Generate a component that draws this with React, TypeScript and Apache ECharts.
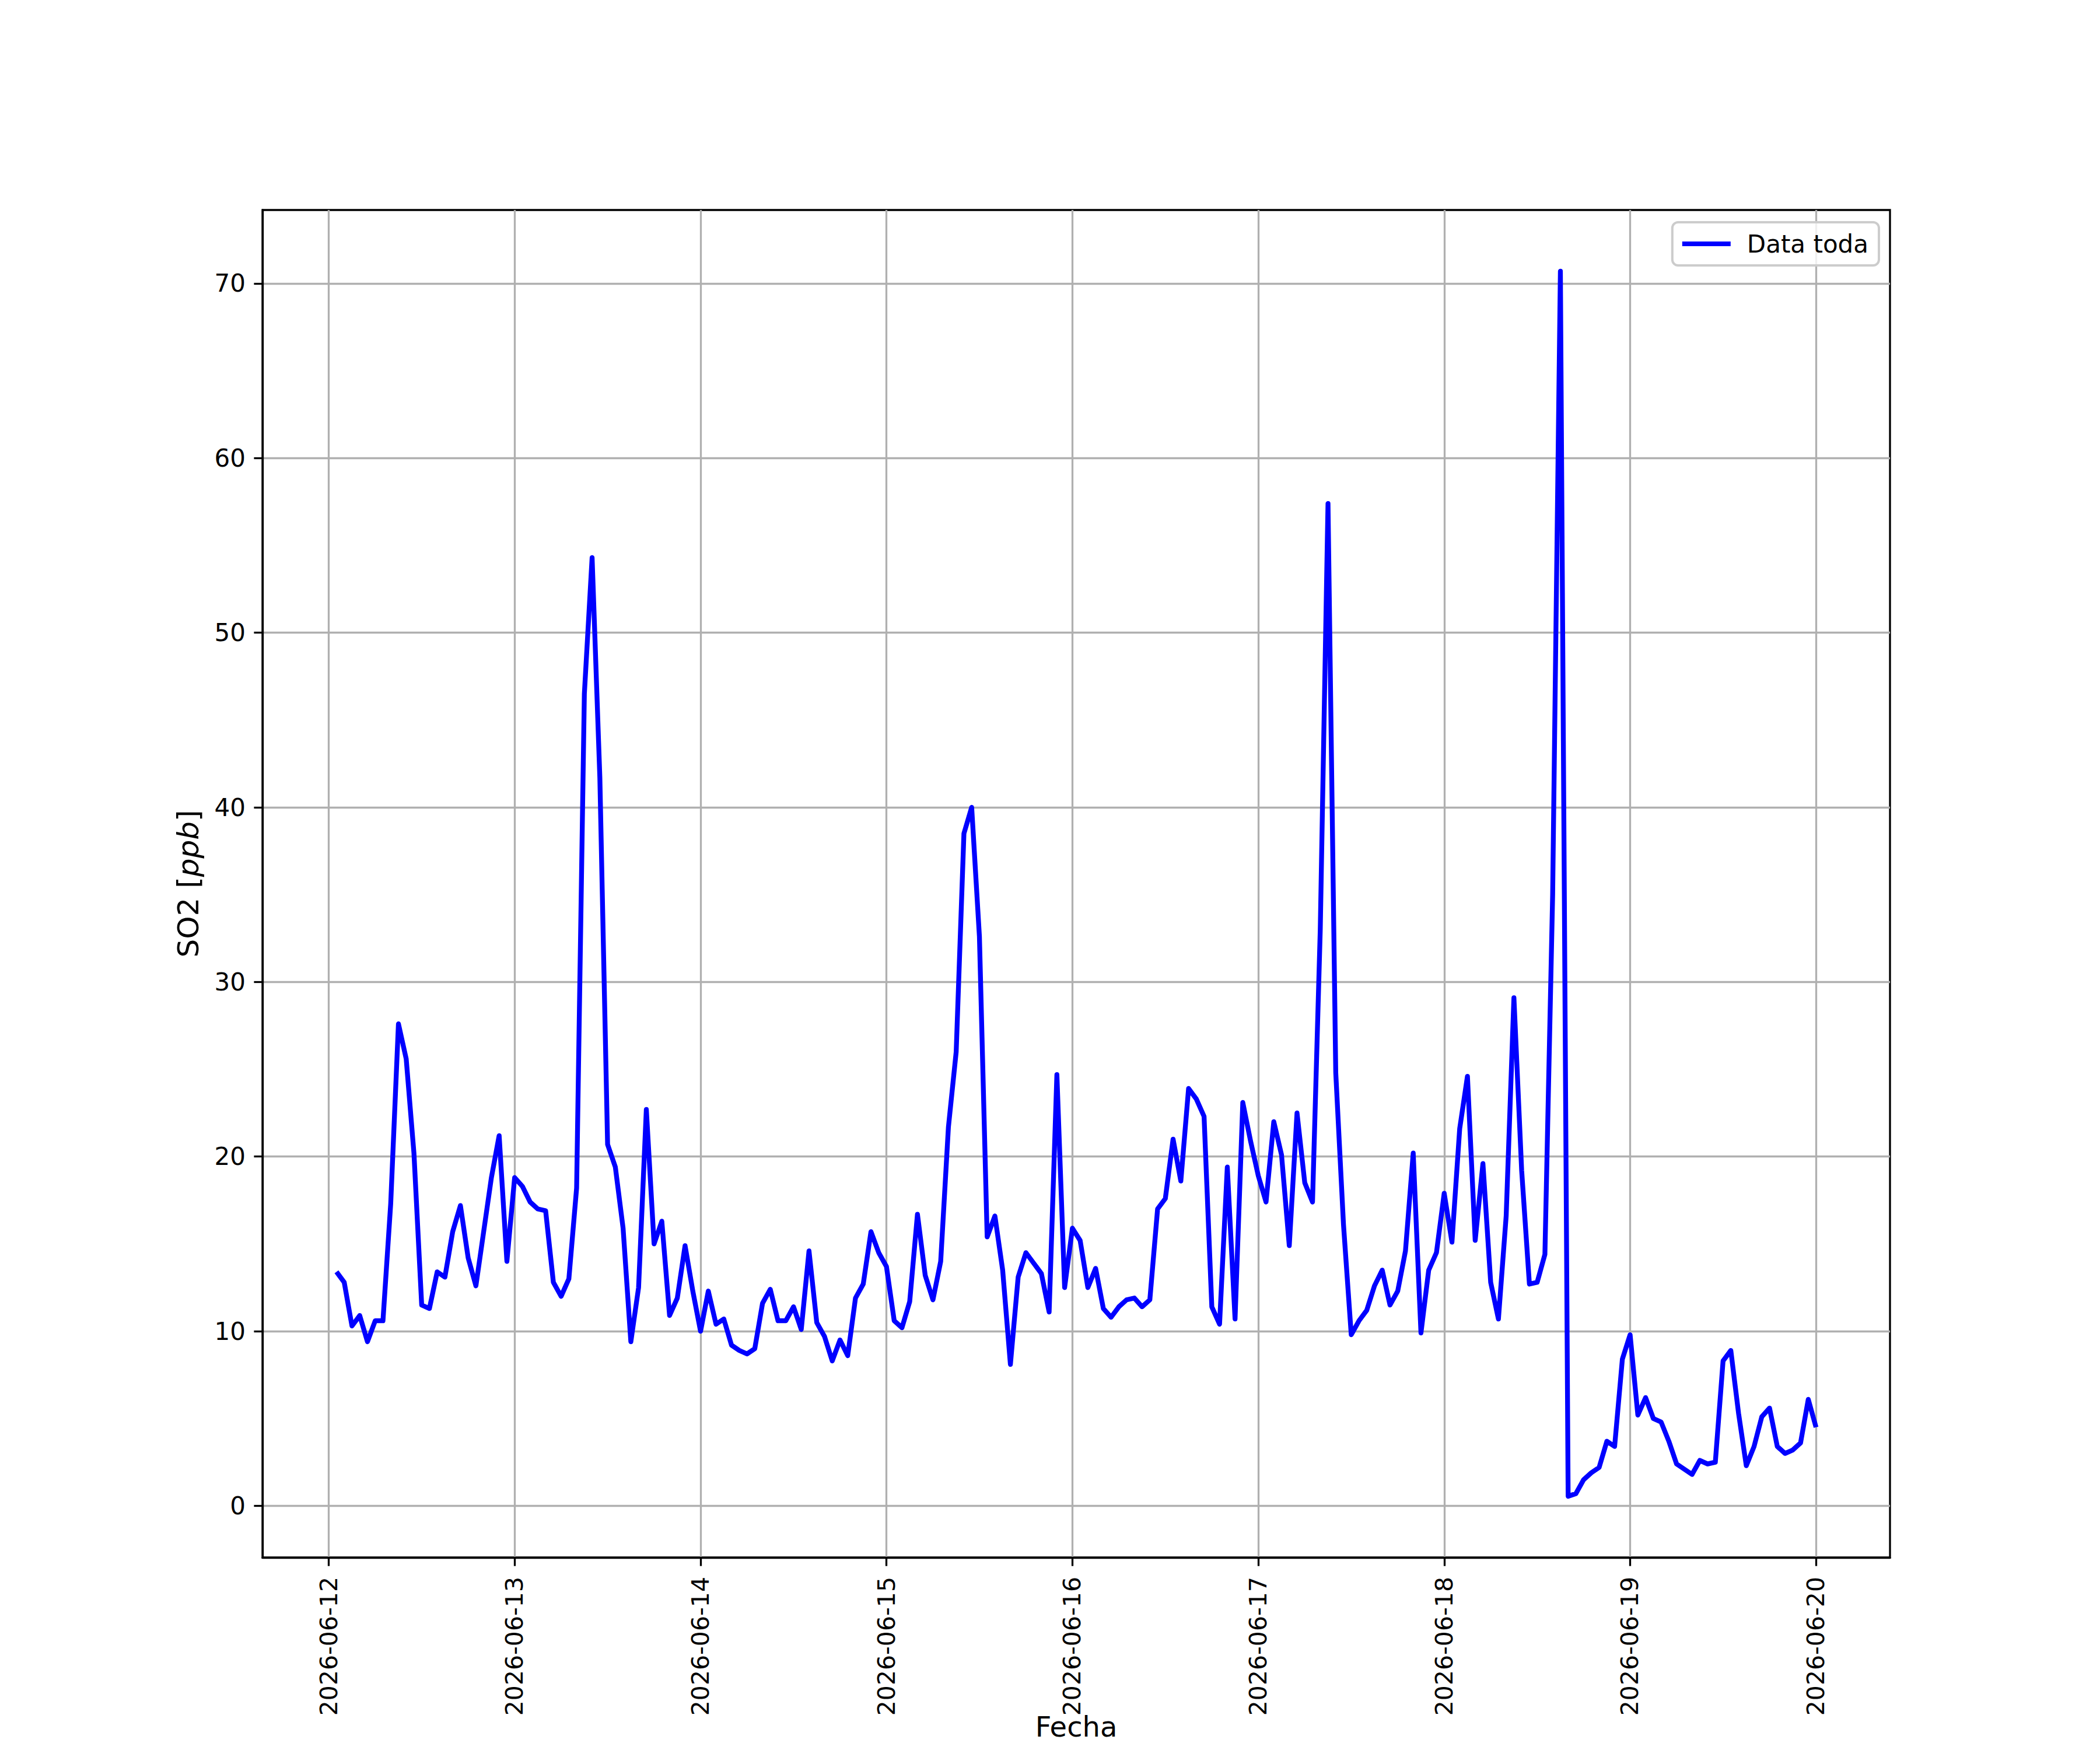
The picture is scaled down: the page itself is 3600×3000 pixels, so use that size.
import React, { useEffect, useRef } from "react";
import * as echarts from "echarts";

// Tick labels
const X_TICK_LABELS = [
  "2026-06-12", "2026-06-13", "2026-06-14", "2026-06-15", "2026-06-16",
  "2026-06-17", "2026-06-18", "2026-06-19", "2026-06-20",
];
const Y_TICKS = [0, 10, 20, 30, 40, 50, 60, 70];

// Hourly SO2 values [ppb], hours 01:00 ... 24:00 of each day
const SO2_06_12 = [13.4, 12.8, 10.3, 10.9, 9.4, 10.6, 10.6, 17.3, 27.6, 25.6, 20.2, 11.5, 11.3, 13.4, 13.1, 15.7, 17.2, 14.2, 12.6, 15.7, 18.8, 21.2, 14.0, 18.8];
const SO2_06_13 = [18.3, 17.4, 17.0, 16.9, 12.8, 12.0, 13.0, 18.2, 46.5, 54.3, 41.7, 20.7, 19.4, 15.9, 9.4, 12.5, 22.7, 15.0, 16.3, 10.9, 11.9, 14.9, 12.3, 10.0];
const SO2_06_14 = [12.3, 10.4, 10.7, 9.2, 8.9, 8.7, 9.0, 11.6, 12.4, 10.6, 10.6, 11.4, 10.1, 14.6, 10.5, 9.7, 8.3, 9.5, 8.6, 11.9, 12.7, 15.7, 14.5, 13.7];
const SO2_06_15 = [10.6, 10.2, 11.7, 16.7, 13.2, 11.8, 14.0, 21.7, 26.0, 38.5, 40.0, 32.6, 15.4, 16.6, 13.5, 8.1, 13.1, 14.5, 13.9, 13.3, 11.1, 24.7, 12.5, 15.9];
const SO2_06_16 = [15.2, 12.5, 13.6, 11.3, 10.8, 11.4, 11.8, 11.9, 11.4, 11.8, 17.0, 17.6, 21.0, 18.6, 23.9, 23.3, 22.3, 11.4, 10.4, 19.4, 10.7, 23.1, 20.9, 18.9];
const SO2_06_17 = [17.4, 22.0, 20.1, 14.9, 22.5, 18.5, 17.4, 33.0, 57.4, 24.8, 16.1, 9.8, 10.6, 11.2, 12.6, 13.5, 11.5, 12.3, 14.6, 20.2, 9.9, 13.5, 14.5, 17.9];
const SO2_06_18 = [15.1, 21.6, 24.6, 15.2, 19.6, 12.8, 10.7, 16.6, 29.1, 19.2, 12.7, 12.8, 14.4, 35.0, 70.7, 0.55, 0.7, 1.5, 1.9, 2.2, 3.7, 3.4, 8.4, 9.8];
const SO2_06_19 = [5.2, 6.2, 5.0, 4.8, 3.7, 2.4, 2.1, 1.8, 2.6, 2.4, 2.5, 8.3, 8.9, 5.3, 2.3, 3.4, 5.1, 5.6, 3.4, 3.0, 3.2, 3.6, 6.1, 4.5];

const DAILY = [SO2_06_12, SO2_06_13, SO2_06_14, SO2_06_15, SO2_06_16, SO2_06_17, SO2_06_18, SO2_06_19];

const HOUR = 3600 * 1000;
const BASE = Date.UTC(2026, 5, 12);

function buildPoints(): [number, number][] {
  const pts: [number, number][] = [];
  DAILY.forEach((vals, d) => {
    vals.forEach((v, i) => {
      pts.push([BASE + (d * 24 + i + 1) * HOUR, v]);
    });
  });
  return pts;
}

function parseDay(s: string): number {
  const [y, m, d] = s.split("-").map(Number);
  return Date.UTC(y, m - 1, d);
}

const FONT = "DejaVu Sans";

export default function App() {
  const ref = useRef<HTMLDivElement>(null);

  useEffect(() => {
    if (!ref.current) return;
    const chart = echarts.init(ref.current, undefined, { renderer: "svg" });
    const pts = buildPoints();
    const xs = pts.map((p) => p[0]);
    const ys = pts.map((p) => p[1]);
    const xMin0 = Math.min(...xs), xMax0 = Math.max(...xs);
    const yMin0 = Math.min(...ys), yMax0 = Math.max(...ys);
    const xm = (xMax0 - xMin0) * 0.05;
    const ym = (yMax0 - yMin0) * 0.05;
    const xTicks = X_TICK_LABELS.map(parseDay);

    chart.setOption({
      animation: false,
      backgroundColor: "#ffffff",
      textStyle: { fontFamily: FONT },
      grid: {
        left: 450,
        top: 360,
        width: 2790,
        height: 2310,
        show: true,
        borderColor: "#000000",
        borderWidth: 3.3,
        backgroundColor: "transparent",
        containLabel: false,
        outerBoundsMode: "none",
      },
      legend: {
        right: 379,
        top: 381,
        icon: "rect",
        itemWidth: 83,
        itemHeight: 8,
        padding: [13, 18, 13, 17],
        borderColor: "#cccccc",
        borderWidth: 4,
        borderRadius: 10,
        backgroundColor: "rgba(255,255,255,0.8)",
        textStyle: {
          fontFamily: FONT,
          fontSize: 42,
          color: "#000000",
          lineHeight: 48,
          padding: [0, 0, 0, 23],
        },
        data: ["Data toda"],
      },
      xAxis: {
        type: "value",
        min: xMin0 - xm,
        max: xMax0 + xm,
        name: "Fecha",
        nameLocation: "middle",
        nameGap: 266,
        nameMoveOverlap: false,
        nameTextStyle: { fontFamily: FONT, fontSize: 48, lineHeight: 48, color: "#000000" },
        axisLine: { show: true, onZero: false, lineStyle: { color: "#000000", width: 3.3 } },
        axisTick: {
          show: true,
          length: 14.6,
          inside: false,
          lineStyle: { color: "#000000", width: 3.3 },
          customValues: xTicks,
        },
        axisLabel: {
          show: true,
          rotate: 90,
          margin: 33,
          fontFamily: FONT,
          fontSize: 41,
          color: "#000000",
          customValues: xTicks,
          formatter: (v: number) => new Date(v).toISOString().slice(0, 10),
        },
        splitLine: { show: true, lineStyle: { color: "#b0b0b0", width: 3.3 } },
      },
      yAxis: {
        type: "value",
        min: yMin0 - ym,
        max: yMax0 + ym,
        name: "{n|SO2 [}{i|ppb}{n|]}",
        nameLocation: "middle",
        nameRotate: 90,
        nameGap: 102,
        nameMoveOverlap: false,
        nameTextStyle: {
          fontFamily: FONT,
          fontSize: 50,
          color: "#000000",
          rich: {
            n: { fontFamily: FONT, fontSize: 50, color: "#000000" },
            i: { fontFamily: FONT, fontSize: 50, color: "#000000", fontStyle: "italic" },
          },
        },
        axisLine: { show: true, onZero: false, lineStyle: { color: "#000000", width: 3.3 } },
        axisTick: {
          show: true,
          length: 14.6,
          inside: false,
          lineStyle: { color: "#000000", width: 3.3 },
          customValues: Y_TICKS,
        },
        axisLabel: {
          show: true,
          margin: 29,
          fontFamily: FONT,
          fontSize: 42,
          color: "#000000",
          customValues: Y_TICKS,
        },
        splitLine: { show: true, lineStyle: { color: "#b0b0b0", width: 3.3 } },
      },
      series: [
        {
          name: "Data toda",
          type: "line",
          data: pts,
          showSymbol: false,
          symbol: "none",
          lineStyle: { color: "#0000ff", width: 8.3, join: "round" },
          itemStyle: { color: "#0000ff" },
          clip: true,
        },
      ],
    });
    return () => chart.dispose();
  }, []);

  return (
    <div
      ref={ref}
      style={{ position: "absolute", left: 0, top: 0, width: 3600, height: 3000 }}
    />
  );
}
